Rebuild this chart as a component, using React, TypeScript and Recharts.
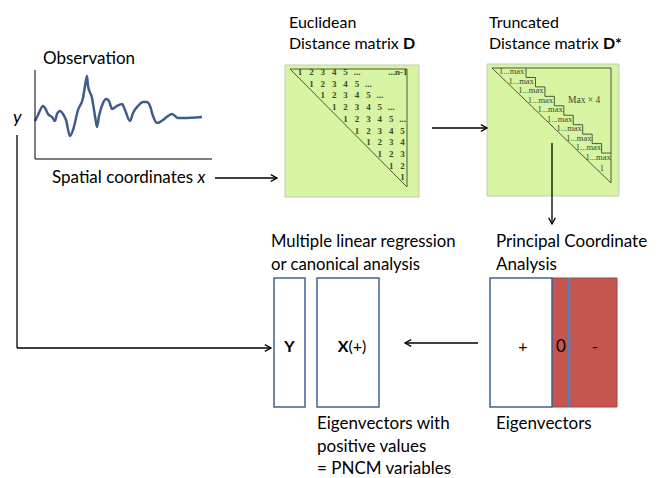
import React from 'react';
import {
  ComposedChart,
  LineChart,
  Line,
  XAxis,
  YAxis,
  ReferenceArea,
  ReferenceLine,
  ReferenceDot,
} from 'recharts';

type Run = { t: string; b?: boolean; i?: boolean };

// observation profile: distance along the x axis, height above the axis
const obsDist = [0, 3, 8, 10, 13, 17, 20, 22, 25, 28, 31, 35, 38, 43, 48, 50, 52, 53, 57, 60, 62, 64, 68, 71, 74, 77, 82, 87, 90, 95, 98, 103, 108, 112, 115, 118, 122, 128, 133, 137, 140, 143, 148, 167];
const obsValue = [38, 44, 53, 51, 45, 42, 38, 45, 48, 45, 39, 23, 29, 49, 61, 73, 83, 73, 61, 43, 32, 43, 56, 60, 58, 50, 53, 55, 49, 38, 46, 53, 57, 57, 53, 43, 36, 39, 43, 45, 43, 41, 41, 42];

// text of the diagram
const obsTitle: Run[][] = [[{ t: 'Observation' }]];
const yLabel: Run[][] = [[{ t: 'y', i: true }]];
const xLabel: Run[][] = [[{ t: 'Spatial coordinates ' }, { t: 'x', i: true }]];
const euclidTitle: Run[][] = [[{ t: 'Euclidean' }], [{ t: 'Distance matrix ' }, { t: 'D', b: true }]];
const truncTitle: Run[][] = [[{ t: 'Truncated' }], [{ t: 'Distance matrix ' }, { t: 'D*', b: true }]];
const regTitle: Run[][] = [[{ t: 'Multiple linear regression' }], [{ t: 'or canonical analysis' }]];
const pcoaTitle: Run[][] = [[{ t: 'Principal Coordinate' }], [{ t: 'Analysis' }]];
const yBox: Run[][] = [[{ t: 'Y', b: true }]];
const xBox: Run[][] = [[{ t: 'X', b: true }, { t: '(+)' }]];
const signs = ['+', '0', '-'];
const pncmNote: Run[][] = [[{ t: 'Eigenvectors with' }], [{ t: 'positive values' }], [{ t: '= PNCM variables' }]];
const eigNote: Run[][] = [[{ t: 'Eigenvectors' }]];

// rows of the euclidean matrix (each row starts one column further right)
const dRows = [
  ['1', '2', '3', '4', '5', '...', '', '', '', '...n-1'],
  ['1', '2', '3', '4', '5', '...'],
  ['1', '2', '3', '4', '5', '...'],
  ['1', '2', '3', '4', '5', '...'],
  ['1', '2', '3', '4', '5', '...'],
  ['1', '2', '3', '4', '5'],
  ['1', '2', '3', '4'],
  ['1', '2', '3'],
  ['1', '2'],
  ['1'],
];
// rows of the truncated matrix
const dStarRows = ['1...max', '1...max', '1...max', '1...max', '1...max', '1...max', '1...max', '1...max', '1...max', '1...max'];
const dStarLast = '1';
const dStarFill = 'Max × 4';

const FONT = 'Lato, "Open Sans", sans-serif';
const SERIF = '"Liberation Serif", "DejaVu Serif", serif';
const GREEN = '#d6f4a2';
const BLUE = '#3f6296';
const RED = '#c4554f';

const obsData = obsDist.map((d, i) => ({ d, v: obsValue[i] }));

const textShape =
  (lines: Run[][], size: number, anchor: 'start' | 'middle' | 'end' = 'start', gap = 22) =>
  (p: any) => (
    <text x={p.cx} y={p.cy} fontFamily={FONT} fontSize={size} fill="#000" textAnchor={anchor}>
      {lines.map((line, i) => (
        <tspan key={i} x={p.cx} dy={i === 0 ? 0 : gap}>
          {line.map((r, j) => (
            <tspan key={j} fontWeight={r.b ? 700 : 400} fontStyle={r.i ? 'italic' : 'normal'}>
              {r.t}
            </tspan>
          ))}
        </tspan>
      ))}
    </text>
  );

const arrowShape = (head: boolean) => (p: any) => {
  const { x1, y1, x2, y2 } = p;
  const a = Math.atan2(y2 - y1, x2 - x1);
  const L = 7;
  const s = 0.5;
  const pts = `${x2 - L * Math.cos(a - s)},${y2 - L * Math.sin(a - s)} ${x2},${y2} ${x2 - L * Math.cos(a + s)},${y2 - L * Math.sin(a + s)}`;
  return (
    <g>
      <line x1={x1} y1={y1} x2={x2} y2={y2} stroke="#000" strokeWidth={1.3} />
      {head && <polyline points={pts} fill="none" stroke="#000" strokeWidth={1.3} />}
    </g>
  );
};

const dMatrixShape = (p: any) => (
  <g fontFamily={SERIF} fontSize={9} fontWeight={700} fill="#3a4a2b" textAnchor="middle">
    {dRows.map((row, r) =>
      row.map((tok, c) =>
        tok ? (
          <text
            key={`${r}-${c}`}
            x={tok.length > 3 ? p.cx + 11.4 * (r + c) + 5 : p.cx + 11.4 * (r + c)}
            y={p.cy + 11.7 * r}
            textAnchor={tok.length > 3 ? 'end' : 'middle'}
          >
            {tok}
          </text>
        ) : null
      )
    )}
  </g>
);

const dStarShape = (p: any) => (
  <g fontFamily={SERIF} fontSize={8.5} fill="#3a4a2b">
    {dStarRows.map((t, r) => (
      <text key={r} x={p.cx + 9.6 * r} y={p.cy + 9.5 * r}>
        {t}
      </text>
    ))}
    <text x={p.cx + 9.6 * 10.5} y={p.cy + 9.5 * 10.2}>{dStarLast}</text>
  </g>
);

const tri = (x0: number, y0: number, x1: number, y1: number) => [
  [{ x: x0, y: y0 }, { x: x1, y: y0 }],
  [{ x: x1, y: y0 }, { x: x1, y: y1 }],
  [{ x: x0, y: y0 }, { x: x1, y: y1 }],
];

const stairSegments = () => {
  const segs: { x: number; y: number }[][] = [];
  const x0 = 526, y0 = 68, w = 9.45, h = 9.45;
  for (let r = 0; r < 9; r++) {
    const x = x0 + w * r;
    const y = y0 + h * r;
    segs.push([{ x, y }, { x, y: y + h }]);
    segs.push([{ x, y: y + h }, { x: x + w, y: y + h }]);
  }
  return segs;
};

const lines = [...tri(290, 69, 407, 187), ...tri(492, 68, 611, 183), ...stairSegments()];

const arrows: { s: { x: number; y: number }[]; head: boolean }[] = [
  { s: [{ x: 215, y: 178 }, { x: 277, y: 178 }], head: true },
  { s: [{ x: 432, y: 128 }, { x: 487, y: 128 }], head: true },
  { s: [{ x: 552, y: 143 }, { x: 552, y: 224 }], head: true },
  { s: [{ x: 478, y: 343 }, { x: 405, y: 343 }], head: true },
  { s: [{ x: 17, y: 135 }, { x: 17, y: 348 }], head: false },
  { s: [{ x: 17, y: 348 }, { x: 271, y: 348 }], head: true },
];

const notes: { x: number; y: number; lines: Run[][]; size: number; anchor?: 'start' | 'middle' | 'end'; gap?: number }[] = [
  { x: 43, y: 64, lines: obsTitle, size: 17 },
  { x: 13, y: 123, lines: yLabel, size: 18 },
  { x: 52, y: 183, lines: xLabel, size: 17 },
  { x: 289, y: 28, lines: euclidTitle, size: 16, gap: 21 },
  { x: 489, y: 28, lines: truncTitle, size: 16, gap: 21 },
  { x: 271, y: 247, lines: regTitle, size: 16.7, gap: 22.5 },
  { x: 496, y: 247, lines: pcoaTitle, size: 17, gap: 22.5 },
  { x: 289.5, y: 352, lines: yBox, size: 16, anchor: 'middle' },
  { x: 352, y: 352, lines: xBox, size: 16, anchor: 'middle' },
  { x: 523, y: 352, lines: [[{ t: signs[0] }]], size: 16, anchor: 'middle' },
  { x: 561, y: 352, lines: [[{ t: signs[1] }]], size: 17, anchor: 'middle' },
  { x: 595, y: 352, lines: [[{ t: signs[2] }]], size: 16, anchor: 'middle' },
  { x: 317, y: 429, lines: pncmNote, size: 17, gap: 22.5 },
  { x: 496, y: 429, lines: eigNote, size: 17 },
];

export default function App() {
  return (
    <div style={{ position: 'absolute', left: 0, top: 0, width: 660, height: 478, background: '#fff' }}>
      <ComposedChart width={660} height={478} margin={{ top: 0, right: 0, bottom: 0, left: 0 }} data={[{ x: 0, y: 0 }]}>
        <XAxis type="number" dataKey="x" domain={[0, 660]} hide allowDataOverflow />
        <YAxis type="number" dataKey="y" domain={[0, 478]} reversed hide allowDataOverflow />

        <ReferenceArea x1={285} x2={419} y1={65} y2={197} fill={GREEN} fillOpacity={1} stroke="#c3cbb8" ifOverflow="visible" />
        <ReferenceArea x1={487} x2={619} y1={64} y2={196} fill={GREEN} fillOpacity={1} stroke="#c3cbb8" ifOverflow="visible" />
        <ReferenceArea x1={274} x2={305} y1={278} y2={407} fill="#fff" fillOpacity={1} stroke={BLUE} strokeWidth={1.5} ifOverflow="visible" />
        <ReferenceArea x1={317} x2={379} y1={278} y2={407} fill="#fff" fillOpacity={1} stroke={BLUE} strokeWidth={1.5} ifOverflow="visible" />
        <ReferenceArea x1={552} x2={617} y1={278} y2={407} fill={RED} fillOpacity={1} stroke="#a84440" strokeWidth={1} ifOverflow="visible" />
        <ReferenceArea x1={490} x2={552} y1={278} y2={407} fill="#fff" fillOpacity={1} stroke={BLUE} strokeWidth={1.5} ifOverflow="visible" />

        <ReferenceLine segment={[{ x: 569, y: 278 }, { x: 569, y: 407 }]} stroke="#4f81bd" strokeWidth={2.5} ifOverflow="visible" />

        {lines.map((s, i) => (
          <ReferenceLine key={`l${i}`} segment={s} stroke="#4a5a3a" strokeWidth={1} ifOverflow="visible" />
        ))}
        {arrows.map((a, i) => (
          <ReferenceLine key={`a${i}`} segment={a.s} ifOverflow="visible" shape={arrowShape(a.head)} />
        ))}

        <ReferenceDot x={300} y={75} r={0} ifOverflow="visible" shape={dMatrixShape} />
        <ReferenceDot x={499} y={74} r={0} ifOverflow="visible" shape={dStarShape} />
        <ReferenceDot
          x={568}
          y={103}
          r={0}
          ifOverflow="visible"
          shape={(p: any) => (
            <text x={p.cx} y={p.cy} fontFamily={SERIF} fontSize={9.5} fill="#3a4a2b">
              {dStarFill}
            </text>
          )}
        />

        {notes.map((n, i) => (
          <ReferenceDot
            key={`n${i}`}
            x={n.x}
            y={n.y}
            r={0}
            ifOverflow="visible"
            shape={textShape(n.lines, n.size, n.anchor ?? 'start', n.gap ?? 22)}
          />
        ))}
      </ComposedChart>

      <div style={{ position: 'absolute', left: 34, top: 70 }}>
        <LineChart width={180} height={90} data={obsData} margin={{ top: 0, right: 2, bottom: 0, left: 0 }}>
          <XAxis type="number" dataKey="d" domain={[0, 177]} height={1} tick={false} tickLine={false} axisLine={{ stroke: '#000', strokeWidth: 1 }} />
          <YAxis type="number" domain={[0, 89]} width={1} tick={false} tickLine={false} axisLine={{ stroke: '#000', strokeWidth: 1 }} />
          <Line dataKey="v" type="monotone" stroke="#3f5d8a" strokeWidth={2.5} dot={false} isAnimationActive={false} />
        </LineChart>
      </div>
    </div>
  );
}
